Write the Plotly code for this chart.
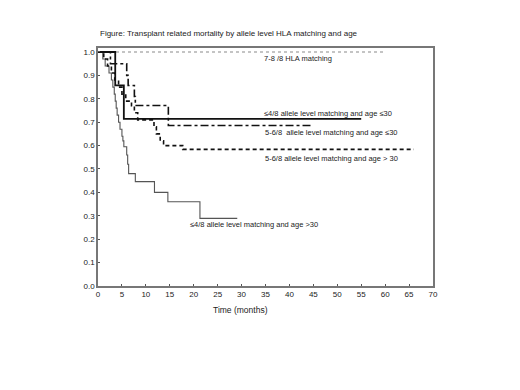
import plotly.graph_objects as go

# Kaplan-Meier style step data (time in months, cumulative proportion)
t_78 = [0, 60]
s_78 = [1.0, 1.0]

t_4_young = [0, 3.6, 5.4, 55]
s_4_young = [1.0, 0.857, 0.714, 0.714]

t_56_young = [0, 2.6, 6.0, 6.3, 7.6, 7.8, 14.7, 44.4]
s_56_young = [1.0, 0.95, 0.90, 0.857, 0.81, 0.771, 0.686, 0.686]

t_56_old = [0, 1.2, 2.0, 2.8, 3.5, 4.3, 5.0, 5.8, 7.0, 7.6, 8.3, 11.7, 12.2, 13.0, 13.7, 17.7, 66]
s_56_old = [1.0, 0.97, 0.94, 0.91, 0.88, 0.85, 0.82, 0.79, 0.77, 0.74, 0.71, 0.68, 0.65, 0.62, 0.60, 0.584, 0.584]

t_4_old = [0, 1.0, 1.5, 2.3, 2.8, 3.1, 3.4, 3.6, 3.8, 4.0, 4.3, 4.6, 5.0, 5.2, 5.4, 6.0, 6.2, 6.4, 7.8, 11.8, 14.6, 21.3, 29.1]
s_4_old = [1.0, 0.97, 0.94, 0.91, 0.88, 0.85, 0.82, 0.79, 0.76, 0.73, 0.70, 0.67, 0.64, 0.62, 0.595, 0.56, 0.52, 0.48, 0.446, 0.40, 0.36, 0.289, 0.289]

x_ticks = list(range(0, 75, 5))
y_ticks = [i / 10 for i in range(11)]

title_text = "Figure: Transplant related mortality by allele level HLA matching and age"
labels = [
    "7-8 /8 HLA matching",
    "\u22644/8 allele level matching and age \u226430",
    "5-6/8  allele level matching and age \u226430",
    "5-6/8 allele level matching and age > 30",
    "\u22644/8 allele level matching and age >30",
]
label_x = [34.3, 34.2, 34.4, 34.4, 18.9]
label_y = [0.974, 0.739, 0.654, 0.543, 0.261]

FONT = "Liberation Sans"
TXT = "#222222"

# page has an 8px body margin; figure occupies page px 8..520 x 8..390
OFF = 8
W, H = 520 - OFF, 390 - OFF
L, R, T, B = 98, 433, 48, 286  # plot area in page pixels


def px_to_paper(px, py):
    return (px - L) / (R - L), (B - py) / (B - T)


fig = go.Figure()
fig.add_trace(go.Scatter(x=t_78, y=s_78, mode="lines", line_shape="hv",
                         line=dict(color="#8a8a8a", width=1.2, dash="dot")))
fig.add_trace(go.Scatter(x=t_4_old, y=s_4_old, mode="lines", line_shape="hv",
                         line=dict(color="#555555", width=1.1)))
fig.add_trace(go.Scatter(x=t_56_old, y=s_56_old, mode="lines", line_shape="hv",
                         line=dict(color="#111111", width=1.6, dash="4px,3px")))
fig.add_trace(go.Scatter(x=t_56_young, y=s_56_young, mode="lines", line_shape="hv",
                         line=dict(color="#111111", width=1.6, dash="3px,3px,8px,3px")))
fig.add_trace(go.Scatter(x=t_4_young, y=s_4_young, mode="lines", line_shape="hv",
                         line=dict(color="#111111", width=1.8)))

annos = []
for txt, lx, ly in zip(labels, label_x, label_y):
    annos.append(dict(x=lx, y=ly, xref="x", yref="y", text=txt, showarrow=False,
                      xanchor="left", yanchor="middle",
                      font=dict(family=FONT, size=7.5, color=TXT)))

tx, ty = px_to_paper(98, 34)
annos.append(dict(x=tx, y=ty, xref="paper", yref="paper", text=title_text,
                  showarrow=False, xanchor="left", yanchor="middle",
                  font=dict(family=FONT, size=8, color=TXT)))
xx, xy = px_to_paper(240, 310)
annos.append(dict(x=xx, y=xy, xref="paper", yref="paper",
                  text="Time (months)", showarrow=False, xanchor="center", yanchor="middle",
                  font=dict(family=FONT, size=8.5, color=TXT)))
annos.append(dict(x=-4.2, y=0.5, xref="x", yref="y", text="Cumulative Proportion",
                  showarrow=False, textangle=90, xanchor="center", yanchor="middle",
                  font=dict(family=FONT, size=8, color=TXT)))

fig.update_layout(
    width=W, height=H,
    margin=dict(l=L - OFF, r=520 - R, t=T - OFF, b=390 - B, pad=0),
    paper_bgcolor="white", plot_bgcolor="white",
    showlegend=False,
    font=dict(family=FONT, size=8, color=TXT),
    annotations=annos,
    xaxis=dict(range=[0, 70], tickvals=x_ticks, ticktext=[str(v) for v in x_ticks],
               showgrid=False, zeroline=False, showline=True, linecolor="#777777",
               linewidth=1.5, mirror=True, ticks="inside", ticklen=2, tickcolor="#555555",
               tickfont=dict(family=FONT, size=8, color=TXT)),
    yaxis=dict(range=[0, 1.017], tickvals=y_ticks, ticktext=[f"{v:.1f}" for v in y_ticks],
               showgrid=False, zeroline=False, showline=True, linecolor="#777777",
               linewidth=1.5, mirror=True, ticks="inside", ticklen=2, tickcolor="#555555",
               tickfont=dict(family=FONT, size=8, color=TXT)),
)

fig.write_html("out.html")
